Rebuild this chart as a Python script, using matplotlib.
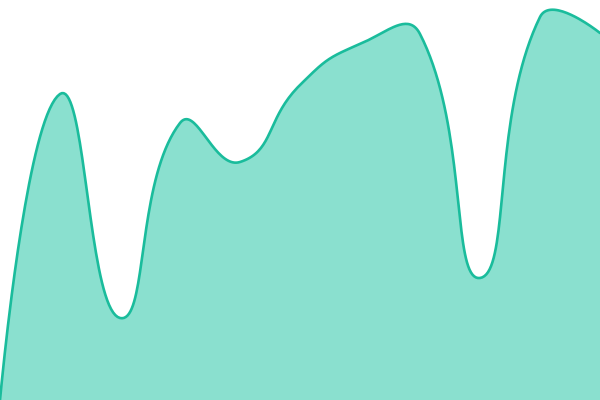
import numpy as np
import matplotlib
matplotlib.use("Agg")
import matplotlib.pyplot as plt

categories = list(range(11))
values = [0, 306, 82, 277, 238, 315, 356, 366, 122, 383, 367]

LINE = "#1abc9c"
FILL = "#8ae0cf"

def echarts_smooth(xs, ys, smooth=0.5, n=40):
    pts = np.column_stack([xs, ys]).astype(float)
    m = len(pts)
    cp_out = pts.copy()
    cp_in = pts.copy()
    for i in range(m):
        p = pts[i]
        if i == 0 or i == m - 1:
            continue
        prev, nxt = pts[i - 1], pts[i + 1]
        v = (nxt - prev) * smooth
        d0 = np.hypot(*(p - prev))
        d1 = np.hypot(*(nxt - p))
        r = d1 / (d0 + d1) if (d0 + d1) > 0 else 0.5
        cp_out[i] = p + v * r
        cp_in[i] = p - v * (1 - r)
    out = []
    t = np.linspace(0, 1, n)[:, None]
    for i in range(m - 1):
        p0, p1, p2, p3 = pts[i], cp_out[i], cp_in[i + 1], pts[i + 1]
        seg = (1 - t) ** 3 * p0 + 3 * (1 - t) ** 2 * t * p1 + 3 * (1 - t) * t ** 2 * p2 + t ** 3 * p3
        out.append(seg if i == 0 else seg[1:])
    arr = np.vstack(out)
    return arr[:, 0], arr[:, 1]

fig = plt.figure(figsize=(6, 4), dpi=100)
ax = fig.add_axes([0, 0, 1, 1])
xs = np.array(categories, dtype=float)
sx, sy = 60.0, 1.0
cx, cy = echarts_smooth(xs * sx, np.array(values) * sy)
ax.fill_between(cx / sx, cy / sy, 0, color=FILL, lw=0)
ax.plot(cx / sx, cy / sy, color=LINE, lw=1.9, solid_capstyle="round")
ax.set_xlim(0, 10)
ax.set_ylim(0, 400)
ax.axis("off")
fig.savefig("out.png", dpi=100)
